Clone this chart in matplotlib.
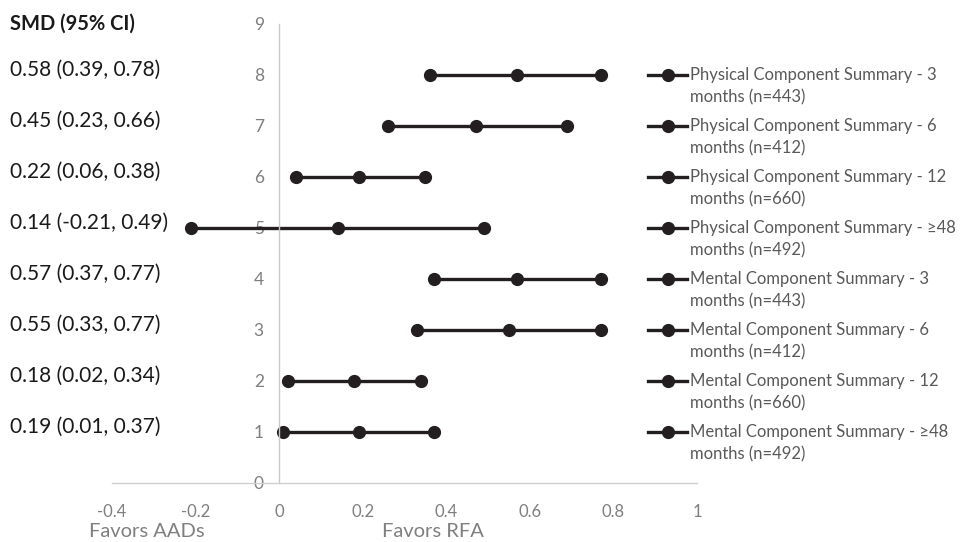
import matplotlib.pyplot as plt
from matplotlib.transforms import blended_transform_factory

# rows from top to bottom
rows = [8, 7, 6, 5, 4, 3, 2, 1]
lower = [0.36, 0.26, 0.04, -0.21, 0.37, 0.33, 0.02, 0.01]
est = [0.57, 0.47, 0.19, 0.14, 0.57, 0.55, 0.18, 0.19]
upper = [0.77, 0.69, 0.35, 0.49, 0.77, 0.77, 0.34, 0.37]
smd_text = ["0.58 (0.39, 0.78)", "0.45 (0.23, 0.66)", "0.22 (0.06, 0.38)",
            "0.14 (-0.21, 0.49)", "0.57 (0.37, 0.77)", "0.55 (0.33, 0.77)",
            "0.18 (0.02, 0.34)", "0.19 (0.01, 0.37)"]
names = ["Physical Component Summary - 3\nmonths (n=443)",
         "Physical Component Summary - 6\nmonths (n=412)",
         "Physical Component Summary - 12\nmonths (n=660)",
         "Physical Component Summary - \u226548\nmonths (n=492)",
         "Mental Component Summary - 3\nmonths (n=443)",
         "Mental Component Summary - 6\nmonths (n=412)",
         "Mental Component Summary - 12\nmonths (n=660)",
         "Mental Component Summary - \u226548\nmonths (n=492)"]
xticks = [-0.4, -0.2, 0, 0.2, 0.4, 0.6, 0.8, 1]
xtick_labels = ["-0.4", "-0.2", "0", "0.2", "0.4", "0.6", "0.8", "1"]

plt.rcParams['font.family'] = ['Lato', 'DejaVu Sans']

fig = plt.figure(figsize=(9.63, 5.42), dpi=100)
ax = fig.add_axes([0.1163, 0.1089, 0.6075, 0.8469])

dark = '#231f20'
for r, lo, e, hi in zip(rows, lower, est, upper):
    ax.plot([lo, e, hi], [r, r, r], color=dark, lw=2.4, marker='o',
            markersize=8.5)

ax.set_xlim(-0.4, 1)
ax.set_ylim(0, 9)
ax.set_xticks(xticks)
ax.set_xticklabels(xtick_labels)
ax.set_yticks(range(10))
ax.set_axisbelow(True)

for s in ['top', 'right']:
    ax.spines[s].set_visible(False)
ax.spines['left'].set_position(('data', 0))
ax.spines['left'].set_color('#c8c8c8')
ax.spines['bottom'].set_color('#d0d0d0')
ax.spines['left'].set_linewidth(1.0)
ax.spines['bottom'].set_linewidth(1.0)
ax.tick_params(axis='y', length=0, pad=11, labelsize=12.5, labelcolor='#7f7f7f')
ax.tick_params(axis='x', length=0, pad=15, labelsize=12, labelcolor='#7f7f7f')

# left column of SMD values, same rows as the plot
tr = blended_transform_factory(fig.transFigure, ax.transData)
ax.text(0.0105, 9.0, "SMD (95% CI)", transform=tr, fontsize=14.5, fontweight='bold',
        color='#1a1a1a', va='center', ha='left')
for r, t in zip(rows, smd_text):
    ax.text(0.0105, r + 0.1, t, transform=tr, fontsize=15, color='#1a1a1a',
            va='center', ha='left')

fig.text(0.152, 0.004, "Favors AADs", fontsize=14.5, color='#7f7f7f',
         ha='center', va='bottom')
fig.text(0.45, 0.004, "Favors RFA", fontsize=14.5, color='#7f7f7f',
         ha='center', va='bottom')

# legend entries lined up with the rows
hx0, hx1 = 648 / 963, 687 / 963
for r, name in zip(rows, names):
    ax.plot([hx0, hx1], [r, r], transform=tr, color=dark, lw=2.4, clip_on=False)
    ax.plot([(hx0 + hx1) / 2], [r], transform=tr, color=dark, marker='o',
            markersize=8.5, clip_on=False)
    first, second = name.split('\n')
    ax.text(690 / 963, r, first, transform=tr, fontsize=12,
            color='#595959', va='center', ha='left')
    ax.text(690 / 963, r - 0.43, second, transform=tr, fontsize=12,
            color='#595959', va='center', ha='left')

fig.savefig('out.png', dpi=100)
